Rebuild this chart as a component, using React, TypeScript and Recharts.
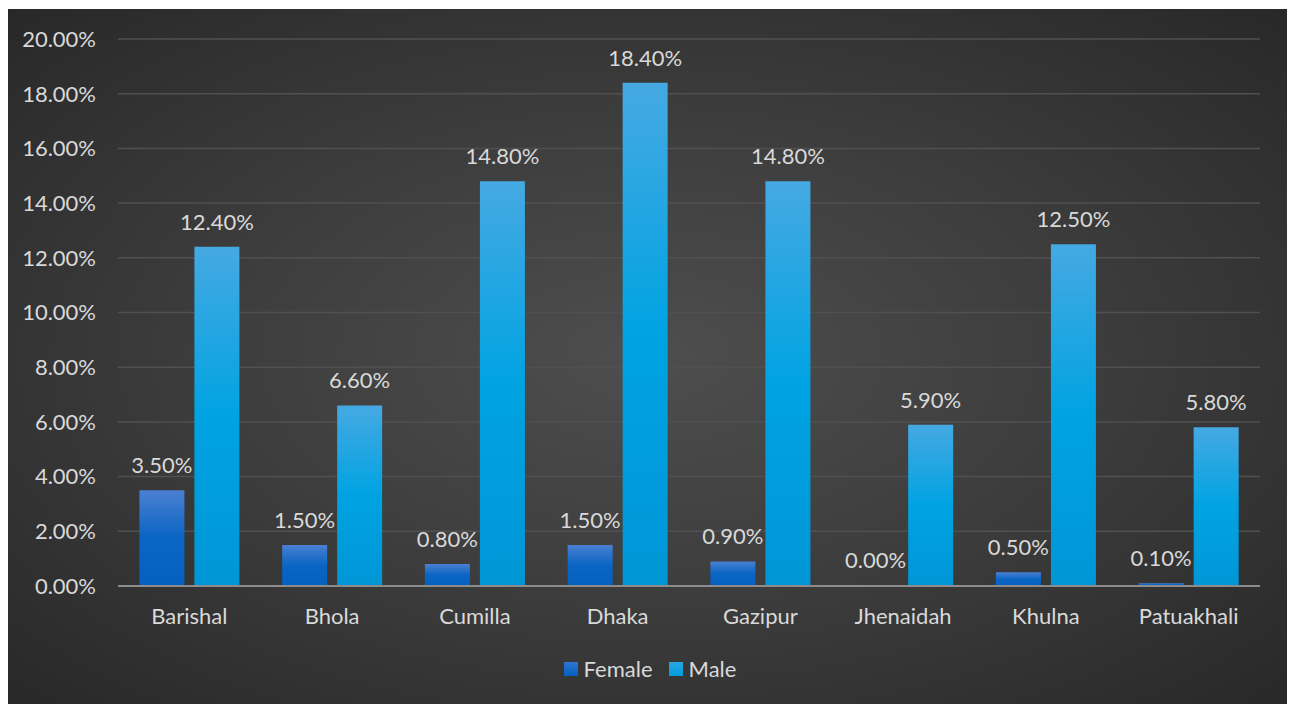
import React from 'react';
import { BarChart, Bar, XAxis, YAxis, CartesianGrid, LabelList } from 'recharts';

const districts = ['Barishal', 'Bhola', 'Cumilla', 'Dhaka', 'Gazipur', 'Jhenaidah', 'Khulna', 'Patuakhali'];
const female = [3.5, 1.5, 0.8, 1.5, 0.9, 0.0, 0.5, 0.1];
const male = [12.4, 6.6, 14.8, 18.4, 14.8, 5.9, 12.5, 5.8];
const yTicks = [0, 2, 4, 6, 8, 10, 12, 14, 16, 18, 20];

const data = districts.map((name, i) => ({ name, Female: female[i], Male: male[i] }));

const pct = (v: any) => `${Number(v).toFixed(2)}%`;
const FONT = 'Lato, "Open Sans", sans-serif';
const TEXT = '#d9d9d9';
const FS = 22;

export default function App() {
  return (
    <div
      style={{
        position: 'relative',
        width: 1282,
        height: 696,
        marginTop: 1,
        marginLeft: -1,
        background: 'radial-gradient(ellipse at 50% 50%, #4e4e4e 0%, #3c3c3c 50%, #282828 100%)',
        fontFamily: FONT,
      }}
    >
      <BarChart
        width={1282}
        height={696}
        data={data}
        margin={{ top: 30, right: 29, bottom: 89, left: 1 }}
        barCategoryGap="15%"
        barGap={10}
      >
        <defs>
          <linearGradient id="gFemale" x1="0" y1="0" x2="0" y2="1">
            <stop offset="0%" stopColor="#4a80d2" />
            <stop offset="50%" stopColor="#0a65c4" />
            <stop offset="100%" stopColor="#0560c0" />
          </linearGradient>
          <linearGradient id="gMale" x1="0" y1="0" x2="0" y2="1">
            <stop offset="0%" stopColor="#45a9e2" />
            <stop offset="50%" stopColor="#00a3e2" />
            <stop offset="100%" stopColor="#0096d6" />
          </linearGradient>
        </defs>
        <CartesianGrid vertical={false} stroke="#505050" strokeWidth={1.5} />
        <XAxis
          dataKey="name"
          axisLine={{ stroke: '#8c8c8c', strokeWidth: 2 }}
          tickLine={false}
          tickSize={0}
          tickMargin={22}
          tick={{ fill: TEXT, fontSize: FS, fontFamily: FONT }}
          interval={0}
        />
        <YAxis
          domain={[0, 20]}
          ticks={yTicks}
          tickFormatter={pct}
          axisLine={false}
          tickLine={false}
          tickSize={0}
          tickMargin={22}
          width={110}
          tick={{ fill: TEXT, fontSize: FS, fontFamily: FONT }}
          interval={0}
        />
        <Bar dataKey="Female" fill="url(#gFemale)" minPointSize={1} isAnimationActive={false}>
          <LabelList dataKey="Female" position="top" offset={17} formatter={pct} fill={TEXT} fontSize={FS} fontFamily={FONT} />
        </Bar>
        <Bar dataKey="Male" fill="url(#gMale)" isAnimationActive={false}>
          <LabelList dataKey="Male" position="top" offset={17} formatter={pct} fill={TEXT} fontSize={FS} fontFamily={FONT} />
        </Bar>
      </BarChart>
      <div
        style={{
          position: 'absolute',
          left: 0,
          right: 0,
          top: 646,
          display: 'flex',
          justifyContent: 'center',
          alignItems: 'center',
          gap: 16,
          color: TEXT,
          fontSize: FS,
          paddingLeft: 4,
        }}
      >
        <span style={{ display: 'flex', alignItems: 'center', gap: 6 }}>
          <span style={{ width: 14, height: 14, background: 'linear-gradient(#2f74d0, #0560c0)', display: 'inline-block' }} />
          Female
        </span>
        <span style={{ display: 'flex', alignItems: 'center', gap: 6 }}>
          <span style={{ width: 14, height: 14, background: 'linear-gradient(#2aa6e2, #009ddc)', display: 'inline-block' }} />
          Male
        </span>
      </div>
    </div>
  );
}
